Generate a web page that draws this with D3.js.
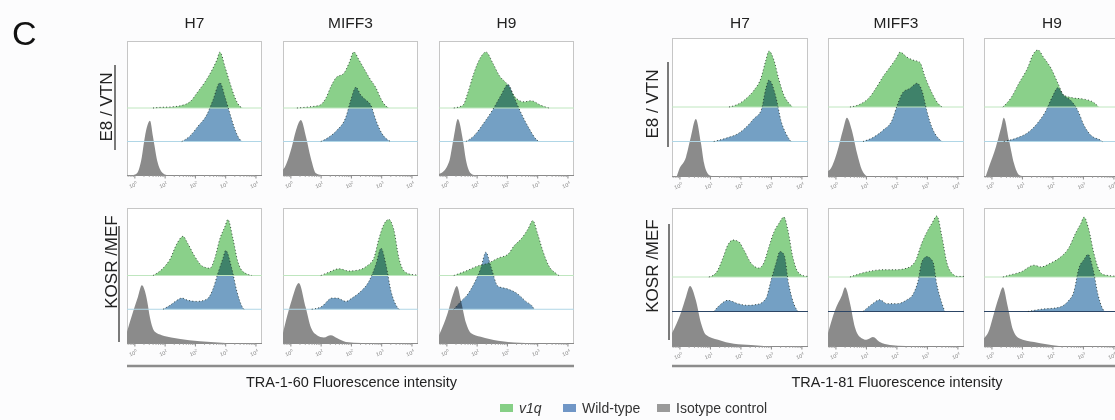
<!DOCTYPE html>
<html><head><meta charset="utf-8">
<script src="https://cdn.jsdelivr.net/npm/d3@7/dist/d3.min.js"></script>
<style>
body{margin:0;background:#fcfcfd;}
svg{display:block;font-family:"Liberation Sans",Arial,Helvetica,sans-serif;}
</style></head><body>
<svg id="c" width="1115" height="420"></svg>
<script>
// ---------- categories / labels ----------
const cellLines = ["H7", "MIFF3", "H9"];
const conditions = ["E8 / VTN", "KOSR /MEF"];
const markers = ["TRA-1-60 Fluorescence intensity", "TRA-1-81 Fluorescence intensity"];
const tickExponents = [0, 1, 2, 3, 4];
const seriesNames = ["v1q", "Wild-type", "Isotype control"];

// ---------- histograms: [log10 intensity, % of modal height] ----------
// TRA-1-60, E8/VTN
const t60_e8_H7_v1q = [[0.6,0],[0.8,1],[1.2,2],[1.5,4],[1.82,11],[2.08,29],[2.31,46],[2.55,68],[2.71,86],[2.81,100],[2.98,73],[3.14,45],[3.31,18],[3.47,3],[3.57,0]];
const t60_e8_H7_wt  = [[1.55,0],[1.82,10],[2.08,27],[2.38,48],[2.58,74],[2.81,105],[2.98,79],[3.14,50],[3.31,21],[3.45,5],[3.54,0]];
const t60_e8_H7_iso = [[-0.05,0],[0.07,3],[0.23,32],[0.33,68],[0.5,97],[0.6,68],[0.76,21],[0.93,3],[1.05,0]];
const t60_e8_MIFF3_v1q = [[0.2,0],[0.6,2],[0.95,5],[1.16,18],[1.32,38],[1.49,54],[1.75,62],[1.92,80],[2.08,100],[2.25,86],[2.41,71],[2.58,55],[2.81,36],[3.0,14],[3.15,3],[3.25,0]];
const t60_e8_MIFF3_wt  = [[0.99,0],[1.26,8],[1.52,20],[1.82,44],[1.98,74],[2.15,97],[2.31,83],[2.48,74],[2.64,65],[2.81,38],[3.0,15],[3.2,3],[3.3,0]];
const t60_e8_MIFF3_iso = [[-0.26,10],[-0.2,14],[0,44],[0.2,85],[0.33,98],[0.5,68],[0.66,30],[0.83,3],[1.0,0]];
const t60_e8_H9_v1q = [[0.23,0],[0.53,5],[0.69,27],[0.89,62],[1.12,91],[1.29,100],[1.52,80],[1.72,59],[2.02,41],[2.28,18],[2.55,11],[2.78,13],[3.1,5],[3.37,0]];
const t60_e8_H9_wt  = [[0.63,0],[0.89,10],[1.22,33],[1.55,60],[1.79,83],[2.02,102],[2.22,79],[2.45,51],[2.71,24],[2.95,4],[3.04,0]];
const t60_e8_H9_iso = [[-0.26,2],[-0.2,3],[0.07,23],[0.23,68],[0.36,100],[0.53,62],[0.63,27],[0.79,3],[0.89,0]];
// TRA-1-60, KOSR/MEF
const t60_ko_H7_v1q = [[0.6,0],[0.93,13],[1.16,29],[1.39,57],[1.59,70],[1.75,57],[1.98,34],[2.25,16],[2.48,13],[2.64,31],[2.81,66],[2.98,88],[3.07,100],[3.24,66],[3.4,25],[3.57,7],[3.87,0]];
const t60_ko_H7_wt  = [[0.93,0],[1.16,7],[1.39,16],[1.55,20],[1.75,16],[2.05,14],[2.38,18],[2.58,36],[2.74,64],[2.91,91],[3.0,105],[3.2,73],[3.37,32],[3.54,5],[3.6,0]];
const t60_ko_H7_iso = [[-0.26,20],[-0.07,54],[0.1,82],[0.23,103],[0.4,77],[0.5,45],[0.66,20],[0.89,14],[1.2,10],[1.8,5],[2.5,2],[3.0,0]];
const t60_ko_MIFF3_v1q = [[0.99,0],[1.26,6],[1.59,12],[1.92,8],[2.25,10],[2.51,17],[2.74,31],[2.91,66],[3.07,91],[3.24,100],[3.4,82],[3.57,31],[3.74,8],[3.97,2],[4.2,1]];
const t60_ko_MIFF3_wt  = [[0.69,0],[1.02,5],[1.36,20],[1.52,20],[1.82,14],[2.02,20],[2.31,32],[2.58,50],[2.81,80],[2.98,109],[3.14,80],[3.31,32],[3.5,5],[3.57,0]];
const t60_ko_MIFF3_iso = [[-0.26,18],[0.03,77],[0.26,107],[0.49,64],[0.66,28],[0.86,14],[1.09,10],[1.32,14],[1.52,9],[1.82,2],[2.35,0]];
const t60_ko_H9_v1q = [[0.23,0],[0.63,8],[1.02,17],[1.36,22],[1.69,31],[2.02,38],[2.22,53],[2.45,65],[2.68,83],[2.84,98],[3.0,74],[3.17,44],[3.37,17],[3.6,4],[3.7,0]];
const t60_ko_H9_wt  = [[0.23,0],[0.46,14],[0.69,27],[0.89,45],[1.12,73],[1.29,102],[1.45,77],[1.69,41],[2.02,36],[2.35,27],[2.61,14],[2.84,4],[2.88,0]];
const t60_ko_H9_iso = [[-0.26,14],[0.03,54],[0.2,86],[0.33,102],[0.46,77],[0.63,36],[0.79,18],[1.12,11],[1.69,4],[2.22,1],[2.6,0]];
// TRA-1-81, E8/VTN
const t81_e8_H7_v1q = [[1.61,0],[1.9,5],[2.23,18],[2.43,30],[2.66,52],[2.82,84],[2.92,100],[3.08,84],[3.25,48],[3.41,21],[3.57,7],[3.7,0]];
const t81_e8_H7_wt  = [[1.11,0],[1.57,7],[1.9,14],[2.16,25],[2.43,41],[2.66,55],[2.82,95],[2.92,110],[3.15,79],[3.31,38],[3.48,14],[3.64,0]];
const t81_e8_H7_iso = [[-0.1,0],[-0.03,11],[0.2,34],[0.36,70],[0.52,102],[0.69,59],[0.79,23],[0.95,2],[1.05,0]];
const t81_e8_MIFF3_v1q = [[0.46,0],[0.79,5],[1.11,18],[1.34,36],[1.54,54],[1.77,71],[2.0,89],[2.1,98],[2.33,89],[2.52,84],[2.75,80],[2.92,54],[3.15,25],[3.34,7],[3.48,0]];
const t81_e8_MIFF3_wt  = [[0.89,0],[1.21,7],[1.54,20],[1.84,38],[2.03,68],[2.2,88],[2.43,95],[2.66,104],[2.82,91],[2.98,55],[3.15,25],[3.34,7],[3.48,0]];
const t81_e8_MIFF3_iso = [[-0.26,9],[-0.2,11],[0.03,41],[0.23,82],[0.36,104],[0.52,82],[0.69,41],[0.85,11],[1.0,0]];
const t81_e8_H9_v1q = [[0.36,0],[0.62,16],[0.89,43],[1.18,71],[1.34,93],[1.51,102],[1.7,88],[1.93,70],[2.16,43],[2.36,21],[2.69,16],[3.02,14],[3.31,9],[3.51,0]];
const t81_e8_H9_wt  = [[0.39,0],[0.85,7],[1.18,16],[1.51,34],[1.77,55],[2.0,82],[2.16,96],[2.36,82],[2.59,73],[2.82,55],[3.02,29],[3.25,11],[3.57,2],[3.62,0]];
const t81_e8_H9_iso = [[-0.2,0],[-0.1,16],[0.13,52],[0.3,86],[0.39,104],[0.56,64],[0.72,23],[0.89,2],[1.0,0]];
// TRA-1-81, KOSR/MEF
const t81_ko_H7_v1q = [[0.95,0],[1.18,7],[1.41,34],[1.57,57],[1.74,66],[1.93,63],[2.1,48],[2.33,25],[2.59,16],[2.75,25],[2.92,54],[3.08,80],[3.25,96],[3.41,107],[3.54,84],[3.7,36],[3.87,9],[4.07,2],[4.2,1]];
const t81_ko_H7_wt  = [[1.11,0],[1.34,13],[1.57,20],[1.9,14],[2.23,11],[2.56,13],[2.82,23],[2.98,54],[3.15,86],[3.28,107],[3.41,102],[3.57,48],[3.74,13],[3.87,0]];
const t81_ko_H7_iso = [[-0.26,23],[0.03,59],[0.2,88],[0.33,107],[0.52,82],[0.69,41],[0.85,20],[1.25,11],[1.77,4],[2.33,2],[2.8,0]];
const t81_ko_MIFF3_v1q = [[0.46,0],[1.0,9],[1.54,13],[2.0,13],[2.33,16],[2.59,27],[2.82,61],[2.98,80],[3.15,96],[3.31,109],[3.48,71],[3.64,25],[3.8,7],[4.0,1],[4.2,1]];
const t81_ko_MIFF3_wt  = [[0.89,0],[1.18,13],[1.44,21],[1.67,14],[2.0,14],[2.33,21],[2.52,30],[2.69,54],[2.82,89],[2.98,98],[3.18,89],[3.31,48],[3.48,14],[3.57,0]];
const t81_ko_MIFF3_iso = [[-0.26,23],[-0.03,64],[0.2,91],[0.3,105],[0.46,77],[0.62,34],[0.79,16],[1.0,11],[1.21,16],[1.44,7],[1.77,2],[2.3,0]];
const t81_ko_H9_v1q = [[0.36,0],[0.62,4],[0.95,9],[1.38,21],[1.61,18],[1.93,25],[2.26,36],[2.52,52],[2.75,79],[2.92,96],[3.02,107],[3.18,84],[3.34,43],[3.51,13],[3.67,4],[4.2,1]];
const t81_ko_H9_wt  = [[1.18,0],[1.61,4],[2.16,7],[2.49,18],[2.69,36],[2.85,77],[3.02,93],[3.15,102],[3.31,77],[3.48,30],[3.64,4],[3.7,0]];
const t81_ko_H9_iso = [[-0.26,14],[-0.13,23],[0.07,59],[0.23,88],[0.36,105],[0.52,70],[0.69,29],[0.89,14],[1.38,7],[2.2,0]];

// table built from the arrays: [marker][condition][cellLine] -> [v1q, wt, iso]
const histTable = [
  [
    [[t60_e8_H7_v1q,t60_e8_H7_wt,t60_e8_H7_iso],[t60_e8_MIFF3_v1q,t60_e8_MIFF3_wt,t60_e8_MIFF3_iso],[t60_e8_H9_v1q,t60_e8_H9_wt,t60_e8_H9_iso]],
    [[t60_ko_H7_v1q,t60_ko_H7_wt,t60_ko_H7_iso],[t60_ko_MIFF3_v1q,t60_ko_MIFF3_wt,t60_ko_MIFF3_iso],[t60_ko_H9_v1q,t60_ko_H9_wt,t60_ko_H9_iso]]
  ],
  [
    [[t81_e8_H7_v1q,t81_e8_H7_wt,t81_e8_H7_iso],[t81_e8_MIFF3_v1q,t81_e8_MIFF3_wt,t81_e8_MIFF3_iso],[t81_e8_H9_v1q,t81_e8_H9_wt,t81_e8_H9_iso]],
    [[t81_ko_H7_v1q,t81_ko_H7_wt,t81_ko_H7_iso],[t81_ko_MIFF3_v1q,t81_ko_MIFF3_wt,t81_ko_MIFF3_iso],[t81_ko_H9_v1q,t81_ko_H9_wt,t81_ko_H9_iso]]
  ]
];

// ---------- layout & style ----------
const fills = ["#8ad08a", "#74a0c4", "#8b8b8b"];
const legendFills = ["#86cf86", "#7096c6", "#9a9a9a"];
const groupsLayout = [
  {x0:127, step:156, w:135, tops:[41,208], h:[134,135], labelX:[106,111], labelY:[107,262], lineX:[115,119], lineY:[[65,150],[226,342]], barEnd:574, wtBase:["#b0d6e6","#b0d6e6"]},
  {x0:672, step:156, w:136, tops:[38,208], h:[138,138], labelX:[652,652], labelY:[104,266], lineX:[668,669], lineY:[[62,147],[224,340]], barEnd:1115, wtBase:["#b0d6e6","#2c4565"]}
];
const peakPx = 56;

const svg = d3.select("#c");
const defs = svg.append("defs");

svg.append("text").attr("x", 12).attr("y", 45).attr("font-size", 34).attr("fill", "#111").text("C");

const yAmp = d3.scaleLinear().domain([0, 100]).range([0, peakPx]);
let clipId = 0;

groupsLayout.forEach((g, mi) => {
  cellLines.forEach((cl, ci) => {
    svg.append("text").attr("x", g.x0 + ci * g.step + g.w / 2).attr("y", 28)
      .attr("text-anchor", "middle").attr("font-size", 15.5).attr("fill", "#222").text(cl);
  });
  conditions.forEach((cond, ri) => {
    const top = g.tops[ri], h = g.h[ri], bottom = top + h;
    svg.append("text").attr("transform", `translate(${g.labelX[ri]},${g.labelY[ri]}) rotate(-90)`)
      .attr("text-anchor", "middle").attr("dominant-baseline", "central")
      .attr("font-size", 17).attr("fill", "#222").text(cond);
    svg.append("line").attr("x1", g.lineX[ri]).attr("x2", g.lineX[ri])
      .attr("y1", g.lineY[ri][0]).attr("y2", g.lineY[ri][1])
      .attr("stroke", "#7a7a7a").attr("stroke-width", 2);

    cellLines.forEach((cl, ci) => {
      const L = g.x0 + ci * g.step;
      const x = d3.scaleLog().domain([Math.pow(10, -0.26), Math.pow(10, 4.2)]).range([L, L + g.w]);
      const id = "clip" + (clipId++);
      defs.append("clipPath").attr("id", id).append("rect")
        .attr("x", L).attr("y", top).attr("width", g.w).attr("height", h);
      const pg = svg.append("g");
      pg.append("rect").attr("x", L + 0.5).attr("y", top + 0.5).attr("width", g.w - 1).attr("height", h)
        .attr("fill", "#ffffff").attr("stroke", "#c6c6c6");
      const bases = [top + h * 0.5, top + h * 0.75, bottom];
      const series = histTable[mi][ri][ci];
      const plot = pg.append("g").attr("clip-path", `url(#${id})`).style("isolation", "isolate");
      [2, 1, 0].forEach(si => {
        const base = bases[si];
        const area = d3.area().curve(d3.curveMonotoneX)
          .x(d => x(Math.pow(10, d[0]))).y0(base).y1(d => base - yAmp(d[1]));
        plot.append("path").datum(series[si]).attr("d", area)
          .attr("fill", fills[si]).style("mix-blend-mode", "multiply");
      });
      plot.append("line").attr("x1", L).attr("x2", L + g.w).attr("y1", bases[0]).attr("y2", bases[0])
        .attr("stroke", "#bfe6bf").attr("stroke-width", 1);
      plot.append("line").attr("x1", L).attr("x2", L + g.w).attr("y1", bases[1]).attr("y2", bases[1])
        .attr("stroke", g.wtBase[ri]).attr("stroke-width", 1);
      [1, 0].forEach(si => {
        const base = bases[si];
        const line = d3.line().curve(d3.curveMonotoneX)
          .x(d => x(Math.pow(10, d[0]))).y(d => base - yAmp(d[1]));
        plot.append("path").datum(series[si]).attr("d", line)
          .attr("fill", "none").attr("stroke", "#1d2a22").attr("stroke-width", 0.9)
          .attr("stroke-dasharray", "0.9 2.4");
      });
      const ax = pg.append("g");
      ax.append("line").attr("x1", L).attr("x2", L + g.w).attr("y1", bottom + 0.5).attr("y2", bottom + 0.5)
        .attr("stroke", "#8a8a8a").attr("stroke-width", 1);
      tickExponents.forEach(e => {
        const tx = x(Math.pow(10, e));
        ax.append("line").attr("x1", tx).attr("x2", tx).attr("y1", bottom).attr("y2", bottom + 3.5)
          .attr("stroke", "#8a8a8a");
        const t = ax.append("text").attr("transform", `translate(${tx - 1},${bottom + 12}) rotate(-20)`)
          .attr("text-anchor", "middle").attr("font-size", 5.5).attr("fill", "#8a8a8a");
        t.append("tspan").text("10");
        t.append("tspan").attr("dy", -2.5).attr("font-size", 4).text(e);
        if (e < 4) {
          for (let m = 2; m <= 9; m++) {
            const mx = x(m * Math.pow(10, e));
            ax.append("line").attr("x1", mx).attr("x2", mx).attr("y1", bottom).attr("y2", bottom + 2)
              .attr("stroke", "#9a9a9a").attr("stroke-width", 0.8);
          }
        }
      });
      [0.6, 0.7, 0.8, 0.9].forEach(v => {
        const mx = x(v);
        ax.append("line").attr("x1", mx).attr("x2", mx).attr("y1", bottom).attr("y2", bottom + 2)
          .attr("stroke", "#9a9a9a").attr("stroke-width", 0.8);
      });
    });
  });
  svg.append("line").attr("x1", g.x0).attr("x2", g.barEnd).attr("y1", 366).attr("y2", 366)
    .attr("stroke", "#8c8c8c").attr("stroke-width", 2.5);
  svg.append("text").attr("x", g.x0 + g.step + g.w / 2 + 1).attr("y", 387)
    .attr("text-anchor", "middle").attr("font-size", 14.5).attr("fill", "#222").text(markers[mi]);
});

const legendX = [500, 563, 657];
const lg = svg.append("g");
seriesNames.forEach((n, i) => {
  lg.append("rect").attr("x", legendX[i]).attr("y", 404).attr("width", 13).attr("height", 8)
    .attr("fill", legendFills[i]);
  lg.append("text").attr("x", legendX[i] + 19).attr("y", 413)
    .attr("font-size", 14).attr("fill", "#333")
    .attr("font-style", i === 0 ? "italic" : "normal").text(n);
});
</script>
</body></html>
